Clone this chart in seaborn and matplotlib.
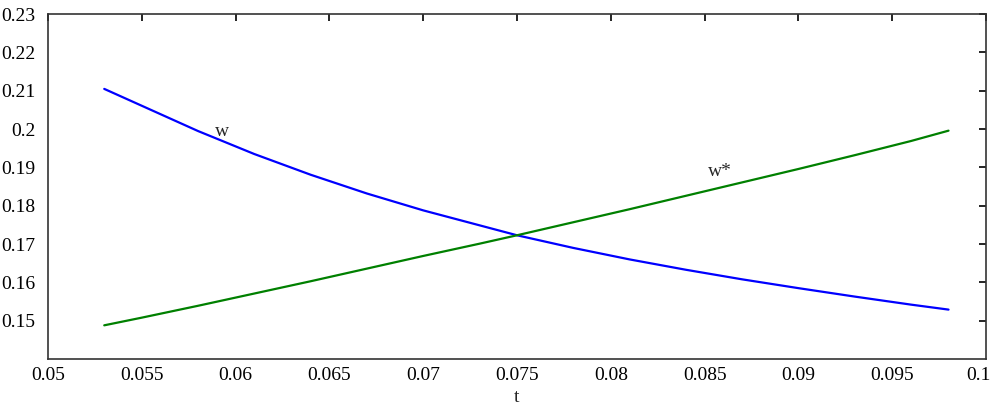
import numpy as np
import pandas as pd
import matplotlib
matplotlib.use('Agg')
import matplotlib.pyplot as plt
import matplotlib.transforms as mtrans
import seaborn as sns

# values
t = [0.053, 0.055, 0.058, 0.061, 0.064, 0.067, 0.070, 0.073, 0.075,
     0.078, 0.081, 0.084, 0.087, 0.090, 0.093, 0.096, 0.098]
w = [0.2105, 0.2061, 0.1995, 0.1935, 0.1881, 0.1832, 0.1788, 0.1749, 0.1723,
     0.1690, 0.1660, 0.1633, 0.1608, 0.1585, 0.1563, 0.1542, 0.1529]
w_star = [0.1488, 0.1508, 0.1539, 0.1571, 0.1603, 0.1636, 0.1669, 0.1701, 0.1723,
          0.1757, 0.1791, 0.1826, 0.1861, 0.1896, 0.1932, 0.1969, 0.1996]
x_ticks = [0.05, 0.055, 0.06, 0.065, 0.07, 0.075, 0.08, 0.085, 0.09, 0.095, 0.1]
x_labels = ['0.05', '0.055', '0.06', '0.065', '0.07', '0.075', '0.08', '0.085', '0.09', '0.095', '0.1']
y_ticks = [0.15, 0.16, 0.17, 0.18, 0.19, 0.2, 0.21, 0.22, 0.23]
y_labels = ['0.15', '0.16', '0.17', '0.18', '0.19', '0.2', '0.21', '0.22', '0.23']

df = pd.DataFrame({'t': t, 'w': w, 'w*': w_star})

sns.set_style('white')
plt.rcParams['font.family'] = ['Liberation Serif', 'DejaVu Serif']
plt.rcParams['font.size'] = 14

fig = plt.figure(figsize=(9.95, 4.17), dpi=100)
ax = fig.add_axes([0.0482, 0.139, 0.9428, 0.827])

sns.lineplot(x='t', y='w', data=df, color='#0000ff', linewidth=1.6, ax=ax)
sns.lineplot(x='t', y='w*', data=df, color='#008000', linewidth=1.6, ax=ax)

ax.text(0.0593, 0.1995, 'w', ha='center', va='center', fontsize=14)
ax.text(0.0858, 0.1889, 'w*', ha='center', va='center', fontsize=14)

ax.set_xlim(0.05, 0.1)
ax.set_ylim(0.14, 0.23)
ax.set_xticks(x_ticks)
ax.set_xticklabels(x_labels)
ax.set_yticks(y_ticks)
ax.set_yticklabels(y_labels)
ax.set_xlabel('t', labelpad=3)
ax.set_ylabel('')
ax.tick_params(direction='in', length=5, width=1.2, top=True, right=True,
               labelsize=14, colors='black')
ax.tick_params(axis='x', pad=6)
ax.tick_params(axis='y', pad=9)
for s in ax.spines.values():
    s.set_color('#333333')
    s.set_linewidth(1.2)

# keep the last x label inside the picture, as in the reference
last = ax.get_xticklabels()[-1]
last.set_transform(last.get_transform() + mtrans.ScaledTranslation(-8 / 100, 0, fig.dpi_scale_trans))

fig.savefig('out.png', dpi=100)
